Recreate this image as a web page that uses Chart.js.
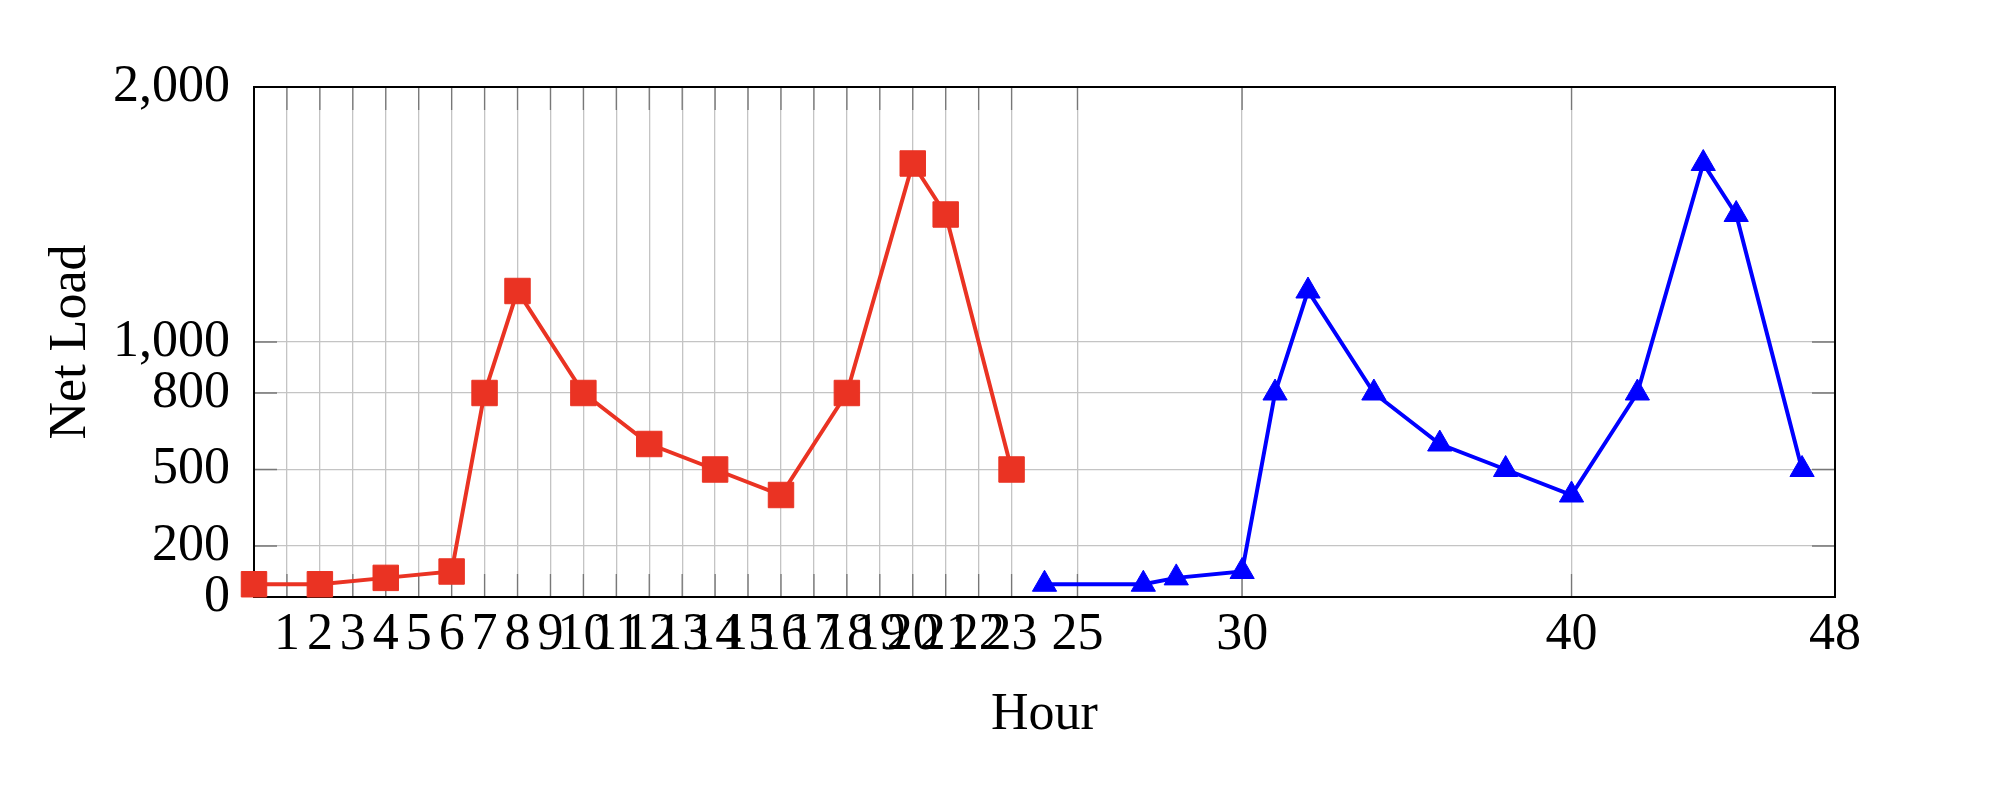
<!DOCTYPE html>
<html>
<head>
<meta charset="utf-8">
<title>Net Load</title>
<script src="https://cdn.jsdelivr.net/npm/chart.js@4.4.0/dist/chart.umd.min.js"></script>
<style>
    body { margin: 0; background: #fff; }
    #wrap { width: 2002px; height: 808px; }
</style>
</head>
<body>
<div id="wrap"><canvas id="loadChart" width="2002" height="808"></canvas></div>
<script>
// Data
const hoursDay1 = [0, 2, 4, 6, 7, 8, 10, 12, 14, 16, 18, 20, 21, 23]
const loadDay1 = [50, 50, 75, 100, 800, 1200, 800, 600, 500, 400, 800, 1700, 1500, 500]
const hoursDay2 = [24, 27, 28, 30, 31, 32, 34, 36, 38, 40, 42, 44, 45, 47]
const loadDay2 = [50, 50, 75, 100, 800, 1200, 800, 600, 500, 400, 800, 1700, 1500, 500]

// Tick marks on the axes
const xTicks = [1, 2, 3, 4, 5, 6, 7, 8, 9, 10, 11, 12, 13, 14, 15, 16, 17, 18, 19, 20, 21, 22, 23, 25, 30, 40, 48]
const xTickLabels = ['1', '2', '3', '4', '5', '6', '7', '8', '9', '10', '11', '12', '13', '14', '15', '16', '17', '18', '19', '20', '21', '22', '23', '25', '30', '40', '48']
const yTicks = [0, 200, 500, 800, 1000, 2000]
const yTickLabels = ['0', '200', '500', '800', '1,000', '2,000']

const RED = '#EA3323'
const BLUE = '#0000FF'
const FONT = { family: "'Liberation Serif', 'Times New Roman', serif", size: 52 }

const toPoints = (xs, ys) => xs.map((x, i) => ({ x: x, y: ys[i] }))

// cadre noir + petits traits de graduation vers l'intérieur (style pgfplots)
const framePlugin = {
    id: 'frame',
    beforeDatasetsDraw(chart) {
        const { ctx, chartArea: a, scales } = chart
        const len = 23
        ctx.save()
        ctx.strokeStyle = '#777'
        ctx.lineWidth = 1.3
        ctx.beginPath()
        xTicks.forEach(v => {
            const px = scales.x.getPixelForValue(v)
            ctx.moveTo(px, a.bottom); ctx.lineTo(px, a.bottom - len)
            ctx.moveTo(px, a.top); ctx.lineTo(px, a.top + len)
        })
        yTicks.forEach(v => {
            const py = scales.y.getPixelForValue(v)
            ctx.moveTo(a.left, py); ctx.lineTo(a.left + len, py)
            ctx.moveTo(a.right, py); ctx.lineTo(a.right - len, py)
        })
        ctx.stroke()
        ctx.strokeStyle = '#000'
        ctx.lineWidth = 2
        ctx.strokeRect(a.left, a.top, a.right - a.left, a.bottom - a.top)
        ctx.restore()
    }
}

const ctx = document.getElementById('loadChart').getContext('2d')

new Chart(ctx, {
    type: 'line',
    data: {
        datasets: [{
            label: 'Day 1',
            data: toPoints(hoursDay1, loadDay1),
            borderColor: RED,
            backgroundColor: RED,
            borderWidth: 4,
            pointStyle: 'rect',
            pointRadius: 18,
            pointBorderWidth: 1,
            fill: false,
            tension: 0,
            clip: false
        }, {
            label: 'Day 2',
            data: toPoints(hoursDay2, loadDay2),
            borderColor: BLUE,
            backgroundColor: BLUE,
            borderWidth: 4,
            pointStyle: 'triangle',
            pointRadius: 14,
            pointBorderWidth: 1,
            fill: false,
            tension: 0,
            clip: false
        }]
    },
    options: {
        responsive: false,
        animation: false,
        devicePixelRatio: 1,
        layout: { padding: { top: 87, right: 167, left: 0, bottom: 0 } },
        plugins: {
            legend: { display: false },
            tooltip: { enabled: false }
        },
        scales: {
            x: {
                type: 'linear',
                min: 0,
                max: 48,
                afterBuildTicks: scale => { scale.ticks = xTicks.map(v => ({ value: v })) },
                afterFit: scale => { scale.height = 211 },
                border: { display: false },
                grid: { color: '#c4c4c4', lineWidth: 1.3, drawTicks: false },
                ticks: {
                    autoSkip: false,
                    maxRotation: 0,
                    minRotation: 0,
                    padding: 7,
                    color: '#000',
                    font: FONT,
                    callback: v => xTickLabels[xTicks.indexOf(v)]
                },
                title: {
                    display: true,
                    text: 'Hour',
                    color: '#000',
                    font: FONT,
                    padding: { top: 0, bottom: 61 }
                }
            },
            y: {
                min: 0,
                max: 2000,
                afterBuildTicks: scale => { scale.ticks = yTicks.map(v => ({ value: v })) },
                afterFit: scale => { scale.width = 254 },
                border: { display: false },
                grid: { color: '#c4c4c4', lineWidth: 1.3, drawTicks: false },
                ticks: {
                    padding: 24,
                    color: '#000',
                    font: FONT,
                    callback: v => yTickLabels[yTicks.indexOf(v)]
                },
                title: {
                    display: true,
                    text: 'Net Load',
                    color: '#000',
                    font: FONT,
                    padding: { top: 40, bottom: 0 }
                }
            }
        }
    },
    plugins: [framePlugin]
})
</script>
</body>
</html>
